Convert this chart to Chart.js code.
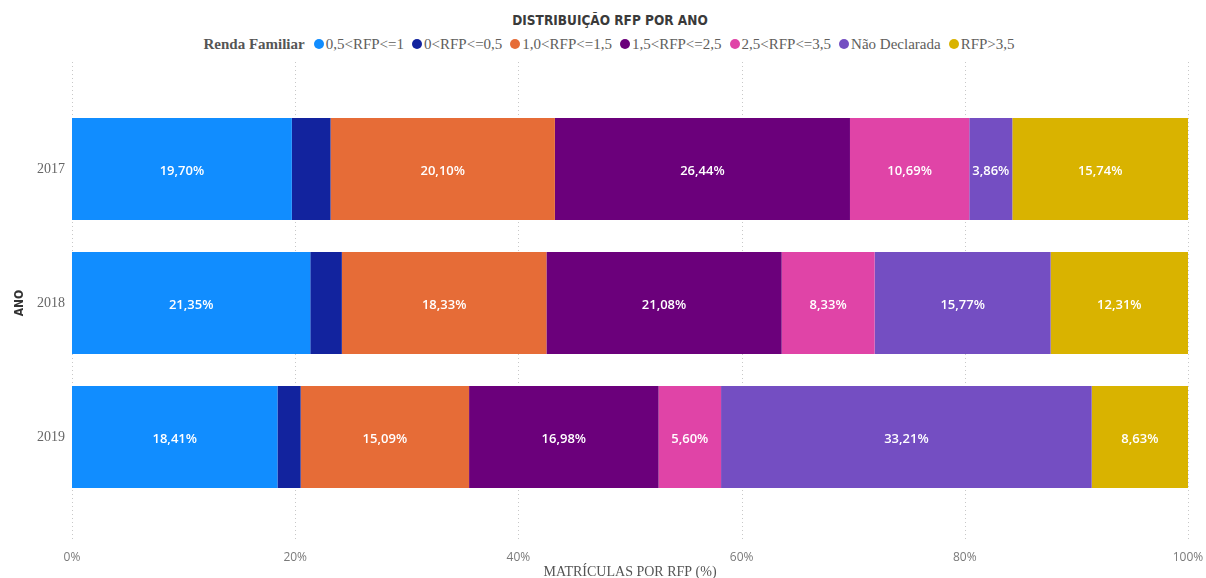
<!DOCTYPE html>
<html>
<head>
<meta charset="utf-8">
<script src="https://cdn.jsdelivr.net/npm/chart.js@4.4.1/dist/chart.umd.min.js"></script>
<style>
  html, body { margin: 0; padding: 0; background: #fff; }
  #wrap { position: relative; width: 1206px; height: 578px; }
  #title {
    position: absolute; left: 0; top: 12px; width: 1220px; text-align: center;
    font: bold 13.5px "DejaVu Sans Condensed", "DejaVu Sans", sans-serif; color: #3a3a3a;
  }
  #legend {
    position: absolute; left: 0; top: 36px; width: 1226px; text-align: center;
    font: 15px "Liberation Serif", serif; color: #605e5c; white-space: nowrap;
  }
  #legend b { color: #555; margin-right: 9px; }
  #legend span.item { margin-right: 8px; }
  #legend i {
    display: inline-block; width: 10px; height: 10px; border-radius: 50%;
    margin-right: 2px; vertical-align: 0px;
  }
  canvas { position: absolute; left: 0; top: 0; }
</style>
</head>
<body>
<div id="wrap">
  <div id="title">DISTRIBUIÇÃO RFP POR ANO</div>
  <div id="legend"></div>
  <canvas id="c" width="1206" height="578"></canvas>
</div>
<script>
(function () {
  "use strict";

  const years = ["2017", "2018", "2019"];
  const seriesNames = [
    "0,5<RFP<=1", "0<RFP<=0,5", "1,0<RFP<=1,5", "1,5<RFP<=2,5",
    "2,5<RFP<=3,5", "Não Declarada", "RFP>3,5"
  ];
  const seriesColors = [
    "#118DFF", "#12239E", "#E66C37", "#6B007B", "#E044A7", "#744EC2", "#D9B300"
  ];
  // percent share per year (2017, 2018, 2019)
  const rfp05a1   = [19.70, 21.35, 18.41];
  const rfp0a05   = [3.47, 2.83, 2.08];
  const rfp10a15  = [20.10, 18.33, 15.09];
  const rfp15a25  = [26.44, 21.08, 16.98];
  const rfp25a35  = [10.69, 8.33, 5.60];
  const naoDecl   = [3.86, 15.77, 33.21];
  const rfpAcima  = [15.74, 12.31, 8.63];
  const seriesValues = [rfp05a1, rfp0a05, rfp10a15, rfp15a25, rfp25a35, naoDecl, rfpAcima];
  const showLabel = [true, false, true, true, true, true, true];
  const xTicks = [0, 20, 40, 60, 80, 100];

  // legend (html)
  const leg = document.getElementById("legend");
  leg.innerHTML = "<b>Renda Familiar</b>" + seriesNames.map((n, i) =>
    `<span class="item"><i style="background:${seriesColors[i]}"></i>${n.replace(/</g, "&lt;").replace(/>/g, "&gt;")}</span>`
  ).join("");

  const fmt = v => v.toFixed(2).replace(".", ",") + "%";

  // dotted vertical grid that runs past the bar band, like Power BI
  const gridPlugin = {
    id: "dotGrid",
    beforeDatasetsDraw(chart) {
      const ctx = chart.ctx, xs = chart.scales.x;
      ctx.save();
      ctx.strokeStyle = "#c8c8c8";
      ctx.lineWidth = 1;
      ctx.setLineDash([1, 3]);
      xTicks.forEach(t => {
        const x = Math.round(xs.getPixelForValue(t)) + 0.5;
        ctx.beginPath();
        ctx.moveTo(x, 62);
        ctx.lineTo(x, 540);
        ctx.stroke();
      });
      ctx.restore();
    }
  };

  const labelPlugin = {
    id: "barLabels",
    afterDatasetsDraw(chart) {
      const ctx = chart.ctx;
      ctx.save();
      ctx.font = '600 13px "Open Sans", "Noto Sans", sans-serif';
      ctx.fillStyle = "#ffffff";
      ctx.textAlign = "center";
      ctx.textBaseline = "middle";
      chart.data.datasets.forEach((ds, di) => {
        if (!showLabel[di]) return;
        chart.getDatasetMeta(di).data.forEach((bar, i) => {
          const x = (bar.x + bar.base) / 2;
          ctx.fillText(fmt(ds.data[i]), x, bar.y + 2);
        });
      });
      ctx.restore();
    }
  };

  new Chart(document.getElementById("c"), {
    type: "bar",
    data: {
      labels: years,
      datasets: seriesNames.map((n, i) => ({
        label: n,
        data: seriesValues[i],
        backgroundColor: seriesColors[i],
        borderWidth: 0,
        barPercentage: 0.761,
        categoryPercentage: 1
      }))
    },
    options: {
      indexAxis: "y",
      responsive: false,
      animation: false,
      layout: { padding: { top: 102, right: 18, left: 0, bottom: 0 } },
      plugins: { legend: { display: false }, tooltip: { enabled: false } },
      scales: {
        x: {
          stacked: true, min: 0, max: 100,
          afterFit(s) { s.height = 74; s.paddingLeft = 0; s.paddingRight = 0; },
          afterBuildTicks(s) { s.ticks = xTicks.map(v => ({ value: v })); },
          grid: { display: false, drawTicks: false },
          border: { display: false },
          ticks: {
            padding: 46, color: "#7a7a7a", maxRotation: 0,
            font: { family: '"Open Sans", "Noto Sans", sans-serif', size: 12 },
            callback: v => v + "%"
          },
          title: {
            display: true, text: "MATRÍCULAS POR RFP (%)", color: "#555",
            padding: { top: 0, bottom: -3 },
            font: { family: '"Liberation Serif", serif', size: 14 }
          }
        },
        y: {
          stacked: true,
          afterFit(s) { s.width = 72; },
          grid: { display: false, drawTicks: false },
          border: { display: false },
          ticks: {
            padding: 7, color: "#666",
            font: { family: '"Liberation Serif", serif', size: 14 }
          },
          title: {
            display: true, text: "ANO", color: "#333",
            padding: { top: 13, bottom: 0 },
            font: { family: '"DejaVu Sans Condensed", "DejaVu Sans", sans-serif', size: 12, weight: "bold" }
          }
        }
      }
    },
    plugins: [gridPlugin, labelPlugin]
  });
})();
</script>
</body>
</html>
